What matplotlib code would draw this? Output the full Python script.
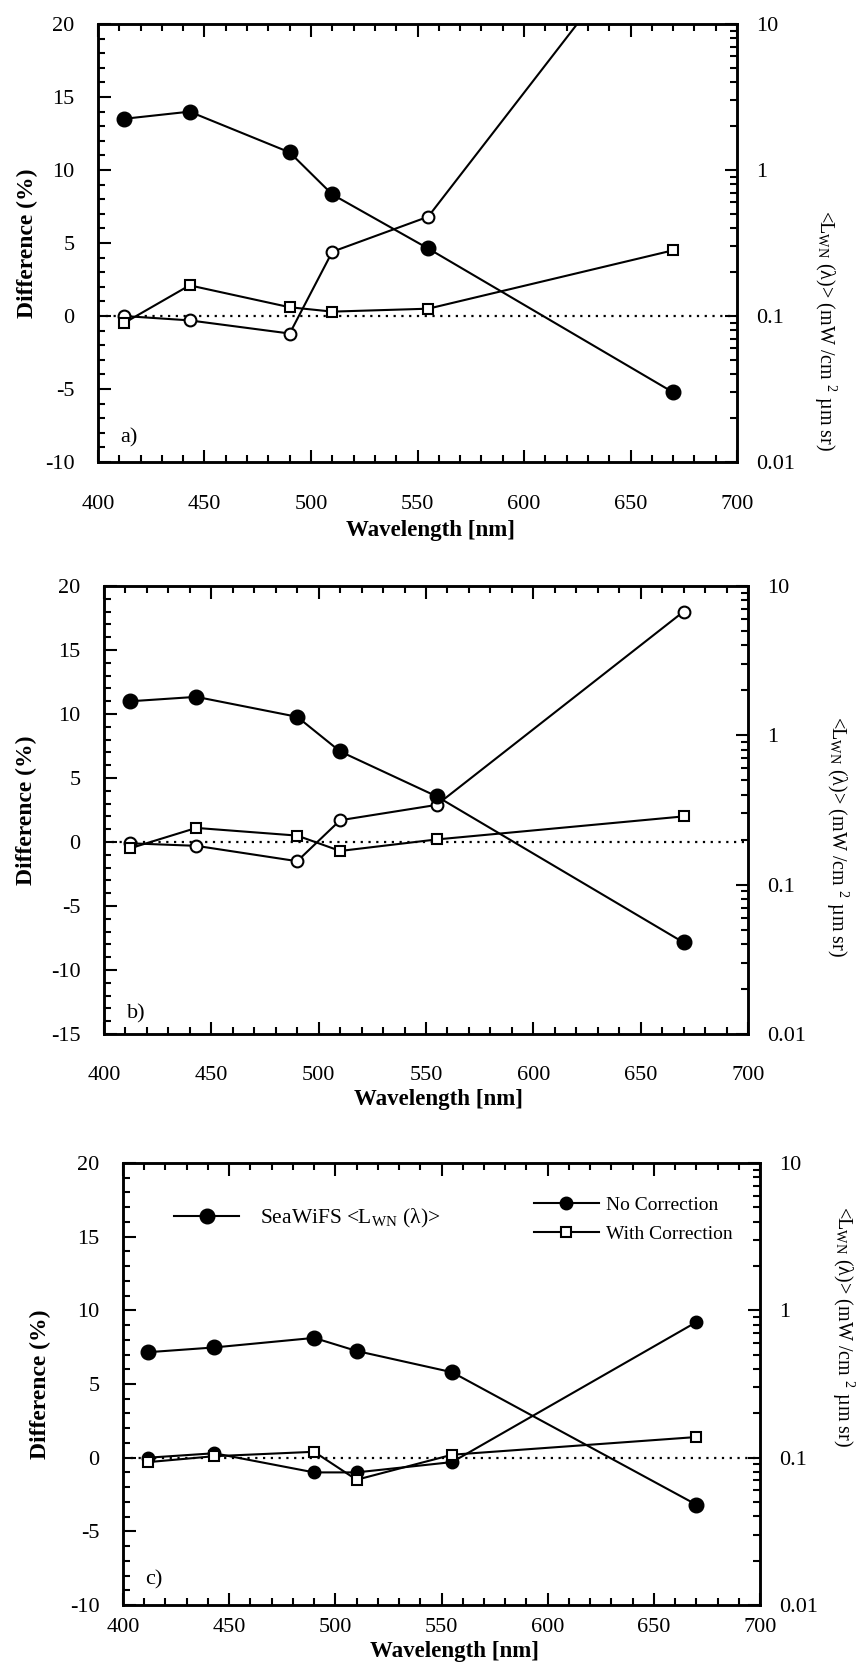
import matplotlib
matplotlib.use("Agg")
import matplotlib.pyplot as plt
from matplotlib.ticker import MultipleLocator, LogLocator, NullFormatter, FixedFormatter, FixedLocator

plt.rcParams['font.family'] = ['Liberation Serif', 'DejaVu Serif']
plt.rcParams['mathtext.fontset'] = 'stix'
plt.rcParams['axes.unicode_minus'] = False

# Wavelengths of the SeaWiFS bands (nm)
wavelength = [412, 443, 490, 510, 555, 670]

# Panel a)
lwn_a = [2.24, 2.51, 1.32, 0.68, 0.29, 0.030]
nocorr_a = [0.0, -0.3, -1.2, 4.4, 6.8, 28.5]
corr_a = [-0.5, 2.1, 0.6, 0.3, 0.5, 4.5]

# Panel b)
lwn_b = [1.69, 1.81, 1.33, 0.78, 0.39, 0.041]
nocorr_b = [-0.1, -0.3, -1.5, 1.7, 2.9, 18.0]
corr_b = [-0.5, 1.1, 0.5, -0.7, 0.2, 2.0]

# Panel c)
lwn_c = [0.52, 0.56, 0.65, 0.53, 0.38, 0.048]
nocorr_c = [0.0, 0.3, -1.0, -1.0, -0.3, 9.2]
corr_c = [-0.3, 0.1, 0.4, -1.5, 0.2, 1.4]

x_ticks = [400, 450, 500, 550, 600, 650, 700]
log_ticks = [0.01, 0.1, 1, 10]
log_labels = ["0.01", "0.1", "1", "10"]

W, H = 865, 1663
fig = plt.figure(figsize=(W / 100, H / 100), dpi=100)


def px_axes(left, top, right, bottom):
    """Add axes using pixel box of the reference."""
    return fig.add_axes([left / W, 1 - bottom / H, (right - left) / W, (bottom - top) / H])


def plotpanel(box, lwn, nocorr, corr, ylow, tag, xpad, xlab_y, ylab_x, rlab, tag_y,
              filled_nc=False, legend=False):
    ax = px_axes(*box)
    ax2 = ax.twinx()

    # Difference series on the left axis
    ax.axhline(0, color="black", ls=(0, (1, 2.5)), lw=1.6, zorder=1)
    mfc = "black" if filled_nc else "white"
    l_nc, = ax.plot(wavelength, nocorr, color="black", lw=1.5, marker="o", ms=8.5,
                    mfc=mfc, mec="black", mew=1.5, label="No Correction")
    l_c, = ax.plot(wavelength, corr, color="black", lw=1.5, marker="s", ms=7,
                   mfc="white", mec="black", mew=1.5, label="With Correction")

    # SeaWiFS LwN on the right log axis
    l_sw, = ax2.plot(wavelength, lwn, color="black", lw=1.5, marker="o", ms=10.5,
                     mfc="black", mec="black",
                     label=r"SeaWiFS <L$_{\mathregular{WN}}$ (λ)>")
    ax2.set_yscale("log")
    ax2.set_ylim(0.01, 10)

    ax.set_xlim(400, 700)
    ax.set_ylim(ylow, 20)
    ax.xaxis.set_major_locator(FixedLocator(x_ticks))
    ax.xaxis.set_minor_locator(MultipleLocator(10))
    ax.yaxis.set_major_locator(MultipleLocator(5))
    ax.yaxis.set_minor_locator(MultipleLocator(1))
    ax.tick_params(which="both", direction="in", top=True, right=False, width=1.5,
                   labelsize=16)
    ax.tick_params(which="major", length=9)
    ax.tick_params(which="minor", length=5)
    ax.tick_params(axis="x", pad=xpad)
    ax.tick_params(axis="y", pad=17)

    ax2.yaxis.set_major_locator(FixedLocator(log_ticks))
    ax2.yaxis.set_major_formatter(FixedFormatter(log_labels))
    ax2.yaxis.set_minor_locator(LogLocator(base=10, subs=range(2, 10)))
    ax2.yaxis.set_minor_formatter(NullFormatter())
    ax2.tick_params(which="both", direction="in", width=1.5, labelsize=16, pad=14)
    ax2.tick_params(which="major", length=9)
    ax2.tick_params(which="minor", length=5)

    for a in (ax, ax2):
        for s in a.spines.values():
            s.set_linewidth(1.8)

    ax.set_xlabel("Wavelength [nm]", fontsize=16.5, fontweight="bold", va="center")
    ax.xaxis.set_label_coords(0.52, xlab_y)
    ax.set_ylabel("Difference (%)", fontsize=17, fontweight="bold", va="center")
    ax.yaxis.set_label_coords(ylab_x, 0.5)
    ax2.set_ylabel(r"<L$_{\mathregular{WN}}$ (λ)> (mW /cm $^{\mathregular{2}}$ µm sr)",
                   fontsize=14.5, rotation=270, va="center", ha="center")
    ax2.yaxis.set_label_coords(*rlab)

    ax.text(0.035, tag_y, tag, transform=ax.transAxes, fontsize=16, va="center")

    if legend:
        leg1 = ax2.legend(handles=[l_sw], loc="upper left", bbox_to_anchor=(0.05, 0.945),
                          frameon=False, fontsize=15.5, handlelength=3.0, handletextpad=1.0)
        ax2.add_artist(leg1)
        ax2.legend(handles=[l_nc, l_c], loc="upper right", bbox_to_anchor=(0.985, 0.965),
                   frameon=False, fontsize=14, handlelength=3.3, labelspacing=0.6,
                   handletextpad=0.4)
    return ax


plotpanel((98, 24, 737, 462), lwn_a, nocorr_a, corr_a, -10, "a)",
          xpad=24, xlab_y=-0.157, ylab_x=-0.111, rlab=(1.138, 0.30), tag_y=0.055)
plotpanel((104, 586, 748, 1034), lwn_b, nocorr_b, corr_b, -15, "b)",
          xpad=23, xlab_y=-0.147, ylab_x=-0.12, rlab=(1.138, 0.44), tag_y=0.045)
plotpanel((123, 1163, 760, 1605), lwn_c, nocorr_c, corr_c, -10, "c)",
          xpad=9, xlab_y=-0.106, ylab_x=-0.13, rlab=(1.13, 0.63), tag_y=0.058,
          filled_nc=True, legend=True)

plt.savefig("out.png", dpi=100)
